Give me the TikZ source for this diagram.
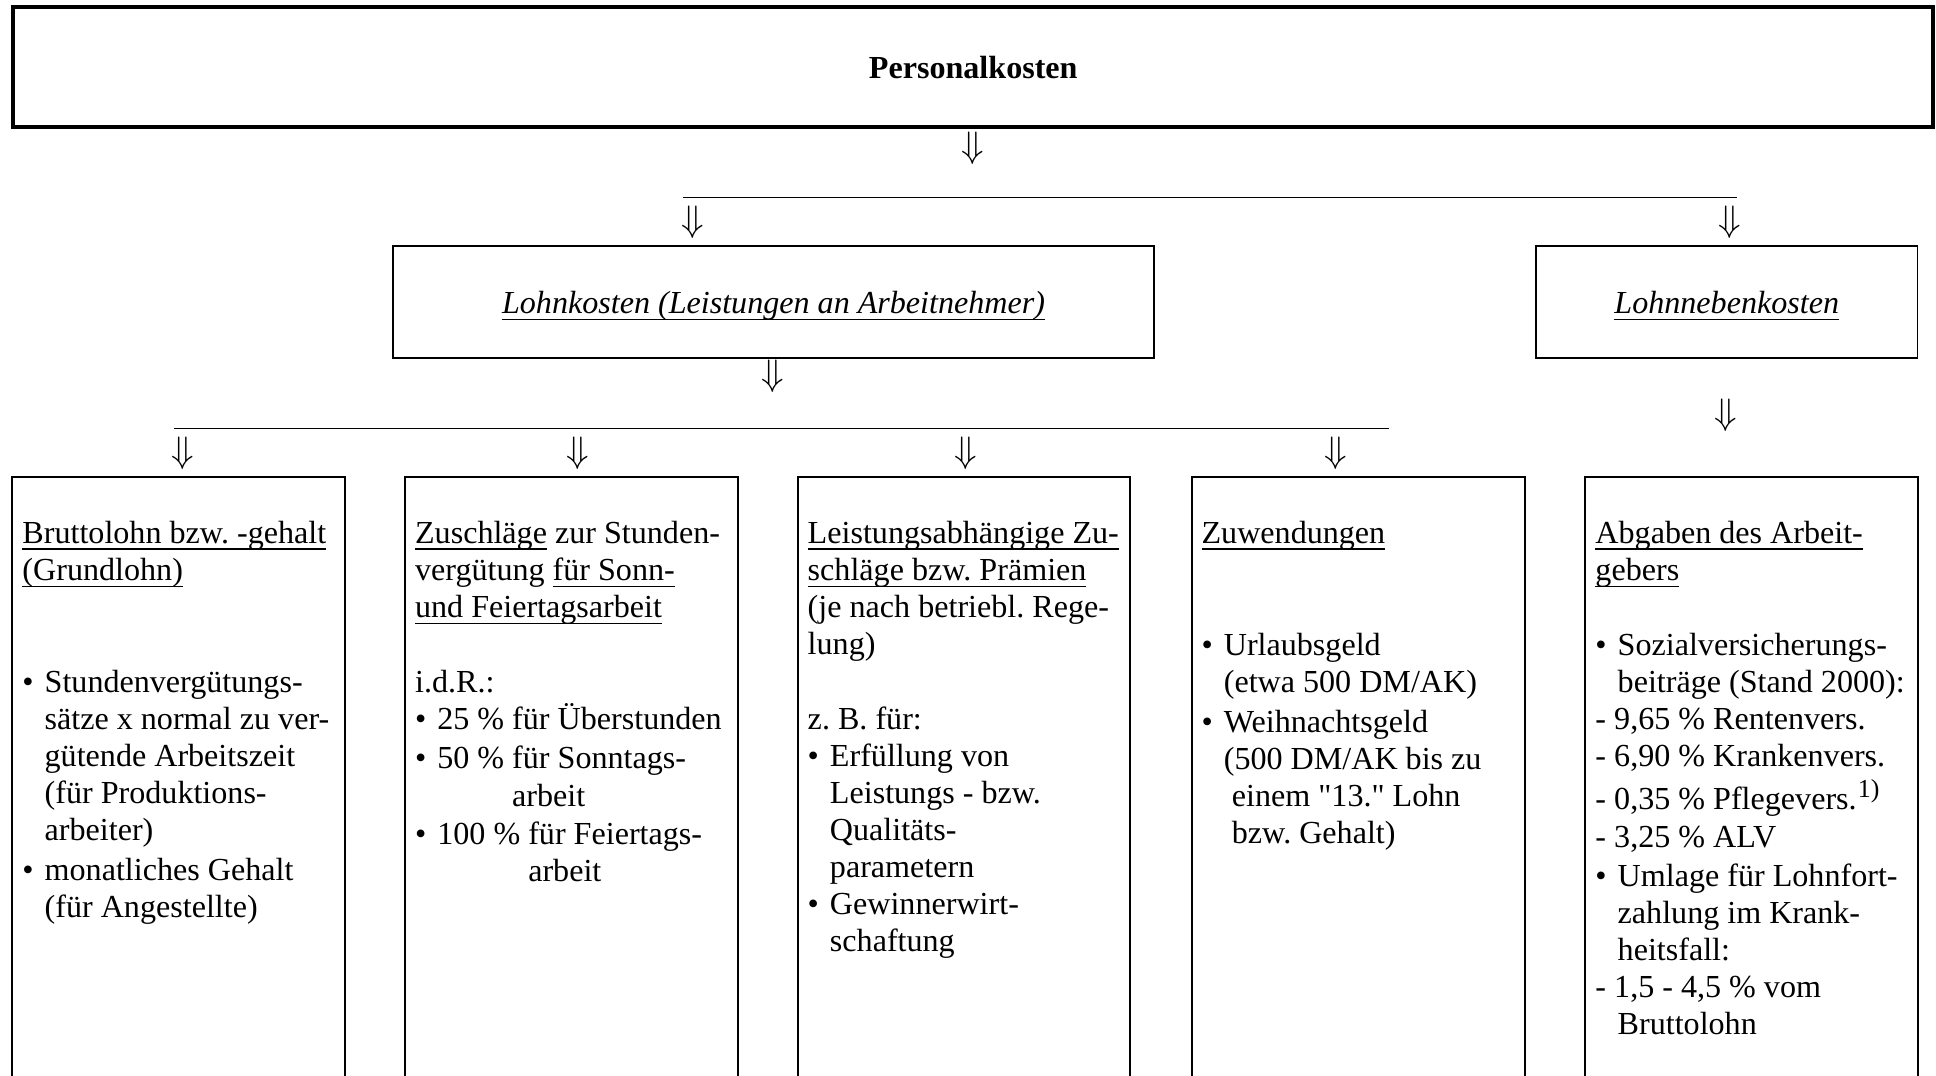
\documentclass[tikz,border=0pt]{standalone}
\usepackage{fontspec}
\setmainfont{Liberation Serif}
% underline with a fixed depth and weight
\newcommand\ulx[1]{\setbox0=\hbox{#1}\rlap{\rule[-5.5pt]{\wd0}{1.3pt}}\box0\relax}
% bullet and hanging indent for list items
\newcommand\bul{\makebox[18pt][l]{\textbullet}}
\newcommand\ind{\hspace*{18pt}}
\newcommand\fnmark[1]{\hspace{1pt}\smash{\raisebox{10pt}{\fontsize{21}{21}\selectfont #1}}}
\begin{document}
\frenchspacing
\begin{tikzpicture}[x=1pt,y=-1pt,
  every node/.style={font=\fontsize{26}{30}\selectfont},
  frame/.style={draw, line width=1.6pt, inner sep=0pt},
  topframe/.style={frame, line width=3.2pt},
  midframe/.style={frame, minimum height=91pt, text height=22pt, text depth=3pt},
  arr/.style={inner sep=0pt, scale=1.2},
  body/.style={anchor=base west, inner sep=0pt, align=left},
  openbox/.style={inner sep=0pt, minimum width=269pt, minimum height=485pt, anchor=north west},
  boxline/.style={line width=1.6pt},
  bar/.style={line width=1.2pt}]
\useasboundingbox (0,0) rectangle (1568,871);

% top level
\node[topframe, minimum width=1555pt, minimum height=97pt] (pk) at (788.25,54.5) {\textbf{Personalkosten}};
\node[arr] (a0) at (788,120) {$\Downarrow$};

\coordinate (h1l) at (553,160);
\coordinate (h1r) at (1407,160);
\draw[bar] (h1l) -- (h1r);
\node[arr] (a1) at (561,180) {$\Downarrow$};
\node[arr] (a2) at (1401,180) {$\Downarrow$};

% second level
\node[midframe, minimum width=617pt] (lk) at (626.5,244.5)
  {\textit{\ulx{Lohnkosten (Leistungen an Arbeitnehmer)}}};
\node[midframe, minimum width=309pt] (lnk) at (1398.5,244.5)
  {\textit{\ulx{Lohnnebenkosten}}};
\node[arr] (a3) at (626,305) {$\Downarrow$};
\node[arr] (a8) at (1398,336) {$\Downarrow$};

\coordinate (h2l) at (141,347);
\coordinate (h2r) at (1125,347);
\draw[bar] (h2l) -- (h2r);
\node[arr] (a4) at (148,367) {$\Downarrow$};
\node[arr] (a5) at (468,367) {$\Downarrow$};
\node[arr] (a6) at (782,367) {$\Downarrow$};
\node[arr] (a7) at (1082,367) {$\Downarrow$};

% third level: boxes open at the bottom edge
\node[openbox] (b1) at (10,386) {};
\node[openbox] (b2) at (328,386) {};
\node[openbox] (b3) at (646,386) {};
\node[openbox] (b4) at (965.5,386) {};
\node[openbox] (b5) at (1284,386) {};
\foreach \b in {b1,b2,b3,b4,b5}
  \draw[boxline] (\b.south west) |- (\b.north east) -- (\b.south east);

\node[body] (t1) at (18,440) {\begin{tabular}[t]{@{}l@{}}
\ulx{Bruttolohn bzw. -gehalt}\\
\ulx{(Grundlohn)}\\[61pt]
\bul Stundenvergütungs-\\
\ind sätze x normal zu ver-\\
\ind gütende Arbeitszeit\\
\ind (für Produktions-\\
\ind arbeiter)\\[2pt]
\bul monatliches Gehalt\\
\ind (für Angestellte)
\end{tabular}};

\node[body] (t2) at (336,440) {\begin{tabular}[t]{@{}l@{}}
\ulx{Zuschläge} zur Stunden-\\
vergütung \ulx{für Sonn-}\\
\ulx{und Feiertagsarbeit}\\[31pt]
i.d.R.:\\
\bul 25 \% für Überstunden\\[1pt]
\bul 50 \% für Sonntags-\\[1pt]
\phantom{\bul 50 \%\ }arbeit\\[1pt]
\bul 100 \% für Feiertags-\\
\phantom{\bul 100 \%\ }arbeit
\end{tabular}};

\node[body] (t3) at (654,440) {\begin{tabular}[t]{@{}l@{}}
\ulx{Leistungsabhängige Zu-}\\
\ulx{schläge bzw. Prämien}\\
(je nach betriebl. Rege-\\
lung)\\[31pt]
z. B. für:\\
\bul Erfüllung von\\
\ind Leistungs - bzw.\\
\ind Qualitäts-\\
\ind parametern\\
\bul Gewinnerwirt-\\
\ind schaftung
\end{tabular}};

\node[body] (t4) at (973,440) {\begin{tabular}[t]{@{}l@{}}
\ulx{Zuwendungen}\\[61pt]
\bul Urlaubsgeld\\
\ind (etwa 500 DM/AK)\\[2pt]
\bul Weihnachtsgeld\\
\ind (500 DM/AK bis zu\\
\ind\ einem \textquotedbl 13.\textquotedbl\ Lohn\\
\ind\ bzw. Gehalt)
\end{tabular}};

\node[body] (t5) at (1292,440) {\begin{tabular}[t]{@{}l@{}}
\ulx{Abgaben des Arbeit-}\\
\ulx{gebers}\\[31pt]
\bul Sozialversicherungs-\\
\ind beiträge (Stand 2000):\\
- 9,65 \% Rentenvers.\\
- 6,90 \% Krankenvers.\\[5pt]
- 0,35 \% Pflegevers.\fnmark{1)}\\
- 3,25 \% ALV\\[2pt]
\bul Umlage für Lohnfort-\\
\ind zahlung im Krank-\\
\ind heitsfall:\\
- 1,5 - 4,5 \% vom\\
\ind Bruttolohn
\end{tabular}};
\end{tikzpicture}
\end{document}
